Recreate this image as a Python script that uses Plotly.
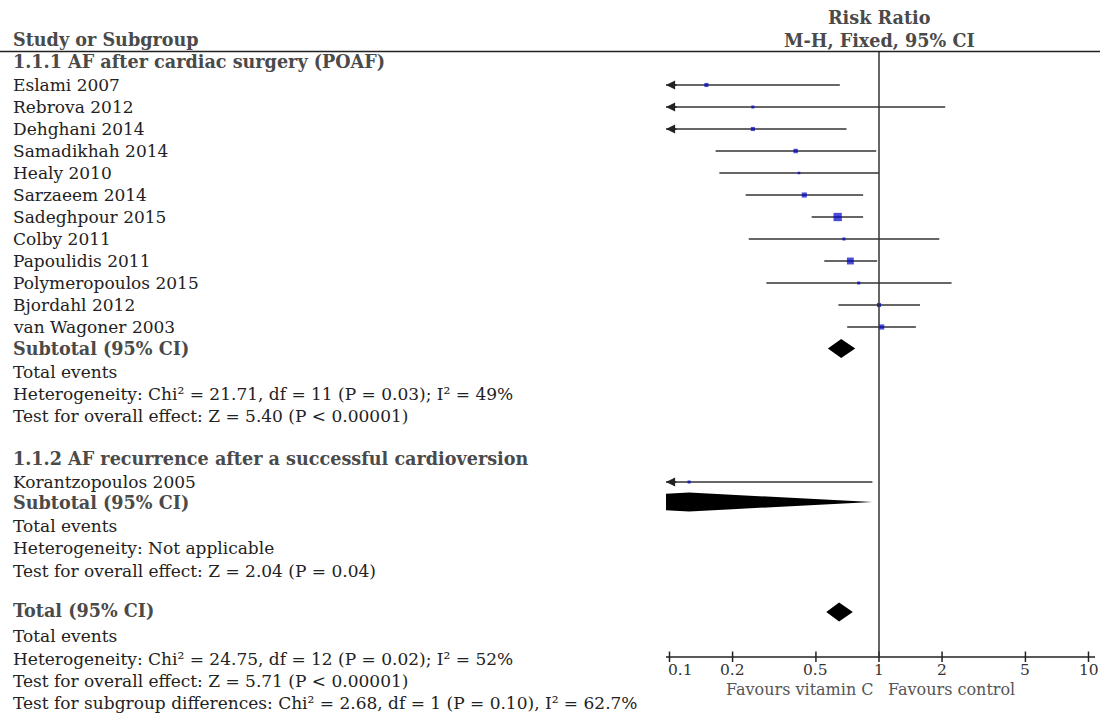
import numpy as np
import plotly.graph_objects as go

# ---------------- data ----------------
studies_1 = ["Eslami 2007", "Rebrova 2012", "Dehghani 2014", "Samadikhah 2014",
             "Healy 2010", "Sarzaeem 2014", "Sadeghpour 2015", "Colby 2011",
             "Papoulidis 2011", "Polymeropoulos 2015", "Bjordahl 2012", "van Wagoner 2003"]
rr_1 = [0.15, 0.25, 0.25, 0.40, 0.415, 0.44, 0.635, 0.68, 0.73, 0.80, 1.00, 1.03]
lo_1 = [0.035, 0.03, 0.089, 0.166, 0.173, 0.231, 0.477, 0.239, 0.548, 0.29, 0.64, 0.705]
hi_1 = [0.65, 2.07, 0.70, 0.97, 1.00, 0.84, 0.84, 1.94, 0.98, 2.22, 1.57, 1.50]
wt_1 = [5.9, 3.3, 5.9, 6.8, 2.3, 9.0, 24.0, 3.3, 16.5, 3.3, 5.9, 9.2]

studies_2 = ["Korantzopoulos 2005"]
rr_2 = [0.124]
lo_2 = [0.0165]
hi_2 = [0.93]
wt_2 = [3.3]

subtotal_1 = (0.66, 0.57, 0.77)
subtotal_2 = (0.124, 0.0165, 0.93)
total_all = (0.645, 0.56, 0.75)

tick_vals = [0.1, 0.2, 0.5, 1, 2, 5, 10]
tick_text = ["0.1", "0.2", "0.5", "1", "2", "5", "10"]

# ---------------- layout helpers ----------------
W, H = 1100, 714
FONT = "DejaVu Serif"
PX_PER_DEC = 209.5
PX_AT_ONE = 879.0
XMIN = 10 ** ((666 - PX_AT_ONE) / PX_PER_DEC)   # left clip of the plot
XMAX = 10 ** ((1095 - PX_AT_ONE) / PX_PER_DEC)
xr = [(0 - PX_AT_ONE) / PX_PER_DEC, (W - PX_AT_ONE) / PX_PER_DEC]
LEFT = 11 / W
AXIS_Y = 657
HEADER_Y = 51.5
BODY_SIZE = 17.0
BOLD_SIZE = 17.6

study_y1 = [85 + 22 * i for i in range(len(studies_1))]
sub1_y = study_y1[-1] + 21.5
study_y2 = [482]
sub2_y = 502
total_y = 612

fig = go.Figure()

# CI lines
xs, ys = [], []
arrows = []
for r, lo, hi, y in zip(rr_1 + rr_2, lo_1 + lo_2, hi_1 + hi_2, study_y1 + study_y2):
    l = max(lo, XMIN)
    h = min(hi, XMAX)
    xs += [l, h, None]
    ys += [y, y, None]
    if lo < XMIN:
        arrows.append(y)
fig.add_trace(go.Scatter(x=xs, y=ys, mode="lines", line=dict(color="#333333", width=1.5),
                         hoverinfo="skip"))

# squares
sizes = [1.7 * np.sqrt(w) for w in wt_1 + wt_2]
fig.add_trace(go.Scatter(x=rr_1 + rr_2, y=study_y1 + study_y2, mode="markers",
                         marker=dict(symbol="square", size=sizes, color="#0000cc",
                                     line=dict(width=0)), hoverinfo="skip"))


def diamond(est, lo, hi, yc, h=9.5):
    le, ee, he = np.log10(lo), np.log10(est), np.log10(hi)
    if lo < XMIN:
        t = (np.log10(XMIN) - le) / (ee - le)
        px = [XMIN, est, hi, est, XMIN, XMIN]
        py = [yc - h * t, yc - h, yc, yc + h, yc + h * t, yc - h * t]
    else:
        px = [lo, est, hi, est, lo]
        py = [yc, yc - h, yc, yc + h, yc]
    return px, py


for (est, lo, hi), yc in [(subtotal_1, sub1_y), (subtotal_2, sub2_y), (total_all, total_y)]:
    px, py = diamond(est, lo, hi, yc)
    fig.add_trace(go.Scatter(x=px, y=py, mode="lines", fill="toself", fillcolor="black",
                             line=dict(width=0, color="black"), hoverinfo="skip"))

# axis line and ticks
fig.add_trace(go.Scatter(x=[XMIN, XMAX], y=[AXIS_Y, AXIS_Y], mode="lines",
                         line=dict(color="#222222", width=1.5), hoverinfo="skip"))
tx, ty = [], []
for v in tick_vals:
    tx += [v, v, None]
    ty += [AXIS_Y - 5.5, AXIS_Y + 5, None]
fig.add_trace(go.Scatter(x=tx, y=ty, mode="lines", line=dict(color="#222222", width=1.5),
                         hoverinfo="skip"))
for i, (v, t) in enumerate(zip(tick_vals, tick_text)):
    first = i == 0
    fig.add_annotation(x=np.log10(v), y=670, xref="x", yref="y",
                       xanchor="left" if first else "center", xshift=-4 if first else 0,
                       yanchor="middle", text=t, showarrow=False,
                       font=dict(family=FONT, size=15.5, color="#333333"))

# vertical line of no effect, header line
fig.add_shape(type="line", xref="x", yref="y", x0=1, x1=1, y0=HEADER_Y, y1=AXIS_Y,
              line=dict(color="#333333", width=1.5))
fig.add_shape(type="line", xref="paper", yref="y", x0=0, x1=1, y0=HEADER_Y, y1=HEADER_Y,
              line=dict(color="#222222", width=1.5))

# arrow heads for truncated CIs
for y in arrows:
    fig.add_annotation(x=np.log10(XMIN), y=y, xref="x", yref="y", ax=12, ay=0,
                       axref="pixel", ayref="pixel", text="", showarrow=True,
                       arrowhead=2, arrowsize=1.3, arrowwidth=1.4, arrowcolor="#222222")

# ---------------- text ----------------
HEAD = "#4a4a4a"
BODY = "#222222"


def txt(s, y, color=BODY, bold=False):
    fig.add_annotation(x=LEFT, y=y, xref="paper", yref="y", xanchor="left", yanchor="middle",
                       text=("<b>%s</b>" % s) if bold else s, showarrow=False,
                       font=dict(family=FONT, size=BOLD_SIZE if bold else BODY_SIZE, color=color))


txt("Study or Subgroup", 39, HEAD, bold=True)
txt("1.1.1 AF after cardiac surgery (POAF)", 61, HEAD, bold=True)
for s, y in zip(studies_1, study_y1):
    txt(s, y)
txt("Subtotal (95% CI)", 348, HEAD, bold=True)
txt("Total events", 372)
txt("Heterogeneity: Chi² = 21.71, df = 11 (P = 0.03); I² = 49%", 394)
txt("Test for overall effect: Z = 5.40 (P &lt; 0.00001)", 416)
txt("1.1.2 AF recurrence after a successful cardioversion", 458, HEAD, bold=True)
for s, y in zip(studies_2, study_y2):
    txt(s, y)
txt("Subtotal (95% CI)", 502, HEAD, bold=True)
txt("Total events", 526)
txt("Heterogeneity: Not applicable", 548)
txt("Test for overall effect: Z = 2.04 (P = 0.04)", 571)
txt("Total (95% CI)", 610, HEAD, bold=True)
txt("Total events", 636)
txt("Heterogeneity: Chi² = 24.75, df = 12 (P = 0.02); I² = 52%", 659)
txt("Test for overall effect: Z = 5.71 (P &lt; 0.00001)", 681)
txt("Test for subgroup differences: Chi² = 2.68, df = 1 (P = 0.10), I² = 62.7%", 703)

for s, y in [("Risk Ratio", 17), ("M-H, Fixed, 95% CI", 40)]:
    fig.add_annotation(x=0, y=y, xref="x", yref="y", xanchor="center", yanchor="middle",
                       text="<b>%s</b>" % s, showarrow=False,
                       font=dict(family=FONT, size=BOLD_SIZE, color=HEAD))

fig.add_annotation(x=0, y=689, xref="x", yref="y", xanchor="right", yanchor="middle", xshift=-3,
                   text="Favours vitamin C", showarrow=False,
                   font=dict(family=FONT, size=16, color="#555555"))
fig.add_annotation(x=0, y=689, xref="x", yref="y", xanchor="left", yanchor="middle", xshift=7,
                   text="Favours control", showarrow=False,
                   font=dict(family=FONT, size=16, color="#555555"))

fig.update_layout(
    width=W, height=H, margin=dict(l=0, r=0, t=0, b=0),
    paper_bgcolor="white", plot_bgcolor="white", showlegend=False,
    xaxis=dict(type="log", range=xr, domain=[0, 1], visible=False, fixedrange=True),
    yaxis=dict(range=[H, 0], domain=[0, 1], visible=False, fixedrange=True),
)

fig.write_html("out.html")
